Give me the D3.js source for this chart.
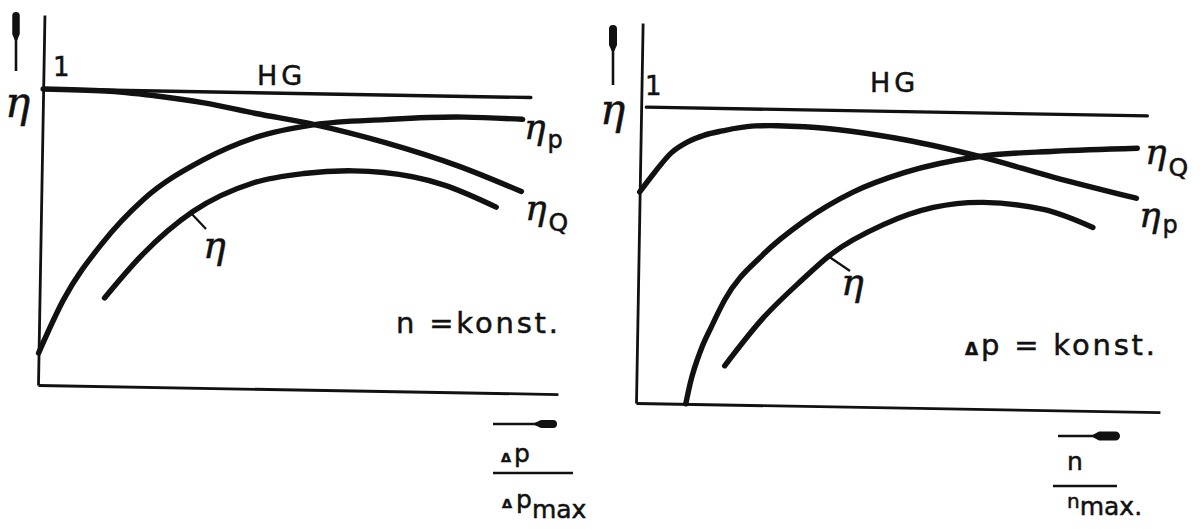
<!DOCTYPE html>
<html>
<head>
<meta charset="utf-8">
<script src="https://cdn.jsdelivr.net/npm/d3@7"></script>
<style>
  html, body { margin: 0; background: #fff; }
  svg { display: block; }
  text { font-family: "DejaVu Sans", sans-serif; fill: #111; stroke: #111; stroke-width: 0.5; }
  text.eta, tspan.eta { font-family: "DejaVu Serif", serif; font-style: italic; }
</style>
</head>
<body>
<svg id="chart" width="1200" height="529"></svg>
<script>
// Efficiency curves, [x, η] pairs; η = 1 is the limit line HG.
// Left: n = konst., x = Δp / Δp_max
const hgLeft    = [[0.0, 1.0], [0.938, 1.0]];
const etaQLeft  = [[0.0, 1.0], [0.12, 0.997], [0.215, 0.984], [0.31, 0.963], [0.41, 0.93],
                   [0.523, 0.896], [0.658, 0.84], [0.80, 0.765], [0.923, 0.682]];
const etaPLeft  = [[0.0, 0.108], [0.046, 0.289], [0.119, 0.483], [0.196, 0.632], [0.31, 0.77],
                   [0.408, 0.848], [0.523, 0.896], [0.658, 0.917], [0.81, 0.93], [0.923, 0.926]];
const etaLeft   = [[0.125, 0.298], [0.196, 0.446], [0.292, 0.595], [0.408, 0.696], [0.504, 0.73],
                   [0.6, 0.742], [0.658, 0.738], [0.773, 0.70], [0.875, 0.628]];

// Right: Δp = konst., x = n / n_max
const hgRight   = [[0.01, 1.0], [0.966, 1.0]];
const etaPRight = [[0.0, 0.713], [0.027, 0.778], [0.059, 0.847], [0.09, 0.885], [0.122, 0.909],
                   [0.155, 0.924], [0.218, 0.943], [0.261, 0.945], [0.313, 0.943], [0.504, 0.905],
                   [0.647, 0.853], [0.79, 0.787], [0.948, 0.721]];
const etaQRight = [[0.095, 0.0], [0.103, 0.071], [0.122, 0.183], [0.141, 0.261], [0.166, 0.354],
                   [0.237, 0.508], [0.313, 0.622], [0.408, 0.726], [0.504, 0.794], [0.647, 0.853],
                   [0.79, 0.875], [0.948, 0.89]];
const etaRight  = [[0.168, 0.131], [0.237, 0.289], [0.313, 0.426], [0.366, 0.512], [0.466, 0.617],
                   [0.561, 0.678], [0.656, 0.698], [0.771, 0.678], [0.866, 0.62]];

const svg = d3.select("#chart");
const INK = "#111";

function drawPanel(opt) {
  const x = d3.scaleLinear().domain([0, 1]).range([0, opt.width]);
  const y = d3.scaleLinear().domain([0, 1]).range([0, -opt.unit]);
  const yAxisScale = d3.scaleLinear().domain([0, opt.yTop]).range([y(0), y(opt.yTop)]);

  const g = svg.append("g")
    .attr("transform", `translate(${opt.origin[0]},${opt.origin[1]}) rotate(${opt.tilt})`);

  // plain axes without ticks
  g.append("g")
    .call(d3.axisBottom(x).tickValues([]).tickSizeOuter(0))
    .call(s => s.select(".domain").attr("stroke", INK).attr("stroke-width", 2.8));
  g.append("g")
    .call(d3.axisLeft(yAxisScale).tickValues([]).tickSizeOuter(0))
    .call(s => s.select(".domain").attr("stroke", INK).attr("stroke-width", 2.8));

  const line = d3.line()
    .x(d => x(d[0]))
    .y(d => y(d[1]))
    .curve(d3.curveMonotoneX);

  g.append("path").datum(opt.hg)
    .attr("d", line).attr("fill", "none")
    .attr("stroke", INK).attr("stroke-width", 3.4).attr("stroke-linecap", "round");

  opt.curves.forEach(c => {
    g.append("path").datum(c)
      .attr("d", line).attr("fill", "none")
      .attr("stroke", INK).attr("stroke-width", 5.4)
      .attr("stroke-linecap", "round").attr("stroke-linejoin", "round");
  });
}

drawPanel({ origin: [38, 385], width: 520, unit: 296, yTop: 1.25, tilt: 1.0,
            hg: hgLeft, curves: [etaQLeft, etaPLeft, etaLeft] });
drawPanel({ origin: [636, 403], width: 524, unit: 296, yTop: 1.284, tilt: 1.0,
            hg: hgRight, curves: [etaPRight, etaQRight, etaRight] });

// direction arrows with blunt, rounded heads
function hArrow(x0, x1, head, yy, w) {
  svg.append("line").attr("x1", x0).attr("x2", x1 - 3).attr("y1", yy).attr("y2", yy)
    .attr("stroke", INK).attr("stroke-width", 2.6);
  const r = w / 2;
  svg.append("path")
    .attr("d", `M${x1 - head},${yy - 1.3} L${x1 - head + 6},${yy - r} L${x1 - r},${yy - r} ` +
               `A${r},${r} 0 0 1 ${x1 - r},${yy + r} L${x1 - head + 6},${yy + r} L${x1 - head},${yy + 1.3} Z`)
    .attr("fill", INK);
}
function vArrow(xx, y0, y1, head, w) {
  svg.append("line").attr("x1", xx).attr("x2", xx).attr("y1", y0).attr("y2", y1 + 3)
    .attr("stroke", INK).attr("stroke-width", 2.6);
  const r = w / 2;
  svg.append("path")
    .attr("d", `M${xx - 1.3},${y1 + head} L${xx - r},${y1 + head - 6} L${xx - r},${y1 + r} ` +
               `A${r},${r} 0 0 1 ${xx + r},${y1 + r} L${xx + r},${y1 + head - 6} L${xx + 1.3},${y1 + head} Z`)
    .attr("fill", INK);
}
vArrow(16, 71, 12, 28, 7.5);
vArrow(613, 85, 25, 26, 8);
hArrow(493, 557, 22, 424, 8);
hArrow(1058, 1120, 27, 436, 9);

function label(xx, yy, str, size, extra) {
  const t = svg.append("text").attr("x", xx).attr("y", yy)
    .attr("font-size", size).text(str);
  if (extra) extra(t);
  return t;
}
const eta = t => t.classed("eta", true);

// y-axis labels
label(5, 117, "η", 42, eta);
label(600, 124, "η", 42, eta);
label(53, 76, "1", 26);
label(645, 95, "1", 26);
label(257, 85, "HG", 27, t => t.attr("letter-spacing", 4));
label(870, 92, "HG", 27, t => t.attr("letter-spacing", 4));

// curve labels: η with index
function subLabel(xx, yy, sub, dy, subSize) {
  const t = label(xx, yy, "η", 36, eta);
  t.append("tspan").attr("dx", 2).attr("dy", dy).attr("font-size", subSize)
    .style("font-family", "DejaVu Sans, sans-serif").style("font-style", "normal").text(sub);
}
subLabel(524, 139, "p", 9, 24);
subLabel(525, 220, "Q", 11, 25);
subLabel(1145, 164, "Q", 12, 25);
subLabel(1139, 227, "p", 6, 24);

// leaders to the η curves
svg.append("line").attr("x1", 190).attr("y1", 212).attr("x2", 206).attr("y2", 229)
  .attr("stroke", INK).attr("stroke-width", 2.2);
label(203, 258, "η", 38, eta);
svg.append("line").attr("x1", 828).attr("y1", 256).attr("x2", 850).attr("y2", 271)
  .attr("stroke", INK).attr("stroke-width", 2.2);
label(841, 295, "η", 38, eta);

// operating conditions
label(396, 333, "n =konst.", 29, t => t.attr("textLength", 162).attr("lengthAdjust", "spacing"));
const dk = label(965, 355, "", 29, t => t.attr("textLength", 190).attr("lengthAdjust", "spacing"));
dk.append("tspan").attr("font-size", 17).attr("font-weight", "bold").text("Δ");
dk.append("tspan").text("p = konst.");

// x-axis quantities as fractions
label(501, 462, "Δ", 13, t => t.attr("font-weight", "bold"));
label(514, 462, "p", 25);
svg.append("line").attr("x1", 493).attr("x2", 573).attr("y1", 473).attr("y2", 473)
  .attr("stroke", INK).attr("stroke-width", 2.6);
label(502, 508, "Δ", 13, t => t.attr("font-weight", "bold"));
const pm = label(516, 508, "p", 25);
pm.append("tspan").attr("dy", 10).text("max");

label(1067, 470, "n", 25);
svg.append("line").attr("x1", 1053).attr("x2", 1117).attr("y1", 486).attr("y2", 486)
  .attr("stroke", INK).attr("stroke-width", 2.6);
const nm = label(1067, 508, "n", 20);
nm.append("tspan").attr("dy", 7).attr("font-size", 25).text("max.");
</script>
</body>
</html>
